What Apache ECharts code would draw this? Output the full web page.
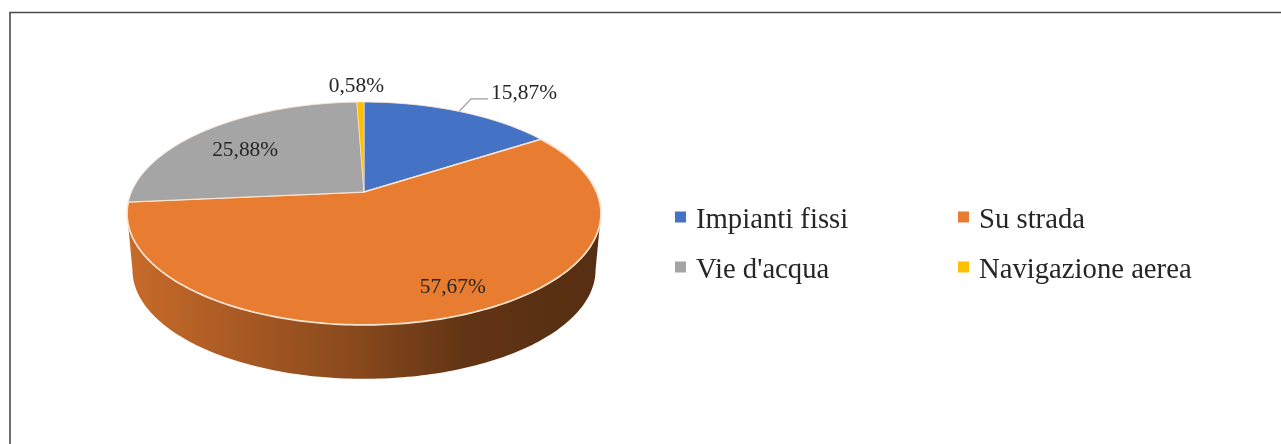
<!DOCTYPE html>
<html>
<head>
<meta charset="utf-8">
<style>html,body{margin:0;padding:0;background:#fff}#c{width:1281px;height:444px}</style>
<script src="https://cdn.jsdelivr.net/npm/echarts@6/dist/echarts.min.js"></script>
</head>
<body>
<div id="c"></div>
<script>
const categories = ['Impianti fissi', 'Su strada', "Vie d'acqua", 'Navigazione aerea'];
const shares = [15.87, 57.67, 25.88, 0.58];
const shareLabels = ['15,87%', '57,67%', '25,88%', '0,58%'];

const colors = ['#4472c4', '#e87c30', '#a5a5a5', '#ffc000'];
const rimWidths = [0.9, 1.7, 0.9, 0.5];
const labelOffsets = [[65, -18.5], [-4, -29], [36, 21], [-4, -16]];
const FONT = '"Liberation Serif", "Times New Roman", serif';

// Perspective view of the disc: u to the right, v to the far side.
const VIEW = { cx: 364, cy: 192, a: 232.5, b: 107.3, k: 0.1927 };
const BASE = { cx: 364, cy: 249, a: 227.2, b: 104.8, k: 0.1927 };
const project = (view, deg) => {
  const r = deg * Math.PI / 180, u = Math.sin(r), v = Math.cos(r), w = 1 + view.k * v;
  return [view.cx + view.a * u / w, view.cy - view.b * v / w];
};
const arc = (view, from, to) => {
  const n = Math.max(2, Math.ceil(Math.abs(to - from))), pts = [];
  for (let i = 0; i <= n; i++) pts.push(project(view, from + (to - from) * i / n));
  return pts;
};
const total = shares.reduce((s, v) => s + v, 0);
const startOf = i => shares.slice(0, i).reduce((s, v) => s + v, 0) / total * 360;
const FRONT = [Math.acos(-VIEW.k) * 180 / Math.PI, 360 - Math.acos(-VIEW.k) * 180 / Math.PI];

function shadeStops(hex) {
  const n = parseInt(hex.slice(1), 16);
  const mix = f => 'rgb(' + [(n >> 16) & 255, (n >> 8) & 255, n & 255].map(c => Math.round(c * f)).join(',') + ')';
  return [
    { offset: 0, color: mix(0.86) },
    { offset: 0.25, color: mix(0.72) },
    { offset: 0.48, color: mix(0.59) },
    { offset: 0.72, color: mix(0.42) },
    { offset: 1, color: mix(0.37) }
  ];
}

function renderSlice(params, api) {
  const i = params.seriesIndex;
  const from = startOf(i), to = from + api.value(0) / total * 360;
  const children = [];
  const wallFrom = Math.max(from, FRONT[0]), wallTo = Math.min(to, FRONT[1]);
  if (wallTo > wallFrom) {
    const pts = arc(VIEW, wallFrom, wallTo).concat(arc(BASE, wallTo, wallFrom));
    children.push({
      type: 'polygon', shape: { points: pts },
      style: { fill: new echarts.graphic.LinearGradient(127, 0, 600, 0, shadeStops(colors[i]), true) }
    });
  }
  children.push({
    type: 'polygon',
    shape: { points: [[VIEW.cx, VIEW.cy]].concat(arc(VIEW, from, to)) },
    style: { fill: colors[i], stroke: '#fbe6d6', lineWidth: rimWidths[i], lineJoin: 'round' }
  });
  const rim = project(VIEW, (from + to) / 2);
  const off = labelOffsets[i];
  if (i === 0) {
    children.push({
      type: 'polyline',
      shape: { points: [rim, [rim[0] + 12, rim[1] - 12.5], [rim[0] + 29, rim[1] - 12.5]] },
      style: { stroke: '#9c9c9c', lineWidth: 1.3, fill: 'none' }
    });
  }
  children.push({
    type: 'text', z2: 10,
    style: {
      text: shareLabels[i], x: rim[0] + off[0], y: rim[1] + off[1],
      align: 'center', verticalAlign: 'middle', fill: '#262626',
      font: '21.4px ' + FONT
    }
  });
  return { type: 'group', children };
}

const chart = echarts.init(document.getElementById('c'), null, { renderer: 'canvas' });
const legendBase = {
  orient: 'vertical', top: 201, itemWidth: 11, itemHeight: 18, itemGap: 21,
  icon: 'path://M0 0H11V11H0Z M0 18H11V18H0Z', selectedMode: false,
  textStyle: { fontFamily: FONT, fontSize: 28.7, color: '#262626', padding: [14, 0, 0, 5] }
};
chart.setOption({
  animation: false,
  backgroundColor: '#ffffff',
  legend: [
    Object.assign({}, legendBase, { left: 670, data: [categories[0], categories[2]] }),
    Object.assign({}, legendBase, { left: 953, data: [categories[1], categories[3]] })
  ],
  graphic: [{
    type: 'polyline', silent: true,
    shape: { points: [[10, 444], [10, 12.5], [1281, 12.5]] },
    style: { stroke: '#4a4a4a', lineWidth: 1.6, fill: 'none' }
  }],
  series: categories.map((name, i) => ({
    type: 'custom', name, coordinateSystem: 'none',
    itemStyle: { color: colors[i] },
    renderItem: renderSlice,
    data: [[shares[i]]],
    silent: true
  }))
});
</script>
</body>
</html>
